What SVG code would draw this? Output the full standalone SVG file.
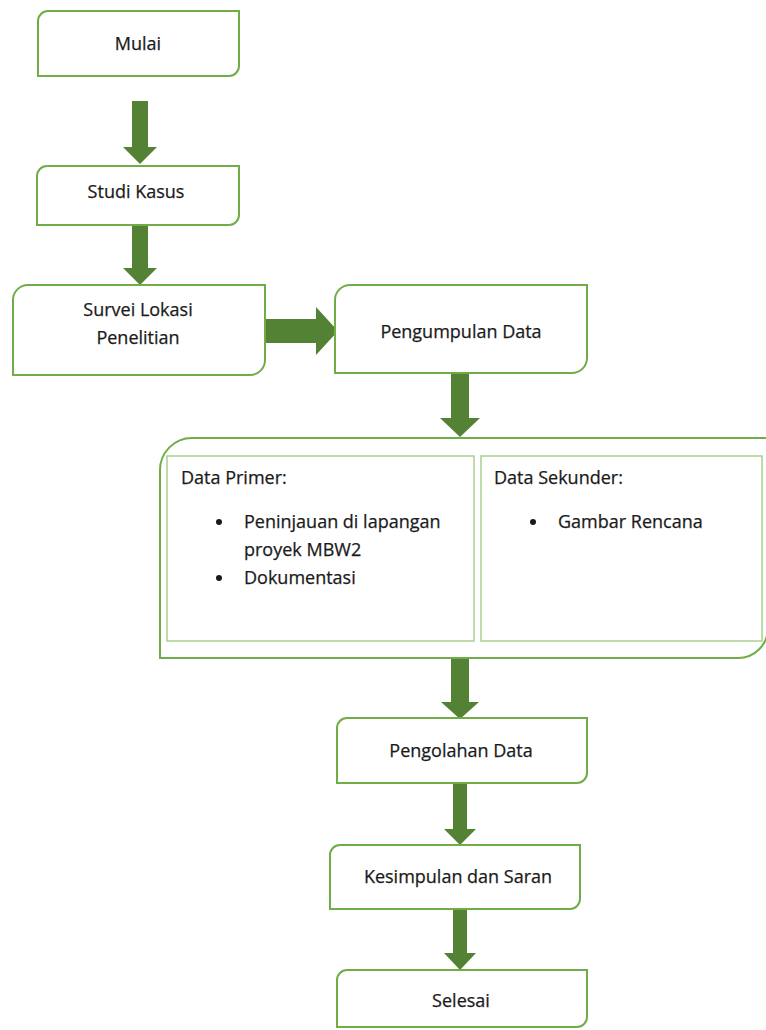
<svg xmlns="http://www.w3.org/2000/svg" width="766" height="1030" viewBox="0 0 766 1030">
<style>
.box{fill:#fff;stroke:#70AD47;stroke-width:2}
.inner{fill:#fff;stroke:#A9D18E;stroke-width:1.5}
.arr{fill:#548235}
text{font-family:"Open Sans","Liberation Sans",sans-serif;font-size:18px;fill:#1a1a1a;stroke:#1a1a1a;stroke-width:0.25}
.c{text-anchor:middle}
</style>
<rect width="766" height="1030" fill="#fff"/>
<g id="connectors">
<polygon class="arr" points="132,101 148,101 148,147 157,147 140,164 123,147 132,147"/>
<polygon class="arr" points="132,225 148,225 148,268 157,268 140,285 123,268 132,268"/>
<polygon class="arr" points="265,319 316,319 316,307 338,331 316,355 316,343 265,343"/>
<polygon class="arr" points="451,373 469,373 469,418 480,418 460,437 440,418 451,418"/>
<polygon class="arr" points="451,658 469,658 469,702 479,702 460,719 441,702 451,702"/>
<polygon class="arr" points="453,783 467,783 467,829 476,829 460,845 444,829 453,829"/>
<polygon class="arr" points="453,909 467,909 467,953 476,953 460,970 444,953 453,953"/>
</g>
<g id="mulai">
<path class="box" d="M48,11 H239 V66 A10,10 0 0 1 229,76 H38 V21 A10,10 0 0 1 48,11 Z"/>
<text class="c" x="138" y="50">Mulai</text>
</g>
<g id="studi">
<path class="box" d="M47,166 H239 V215 A10,10 0 0 1 229,225 H37 V176 A10,10 0 0 1 47,166 Z"/>
<text class="c" x="136" y="198">Studi Kasus</text>
</g>
<g id="survei">
<path class="box" d="M28,285 H265 V360 A15,15 0 0 1 250,375 H13 V300 A15,15 0 0 1 28,285 Z"/>
<text class="c" x="138" y="316">Survei Lokasi</text>
<text class="c" x="138" y="344">Penelitian</text>
</g>
<g id="pengumpulan">
<path class="box" d="M350,285 H587 V358 A15,15 0 0 1 572,373 H335 V300 A15,15 0 0 1 350,285 Z"/>
<text class="c" x="461" y="338">Pengumpulan Data</text>
</g>
<g id="data">
<path class="box" d="M192,438 H768 V628 A30,30 0 0 1 738,658 H160 V470 A32,32 0 0 1 192,438 Z"/>
<rect class="inner" x="167" y="456" width="307" height="185"/>
<rect class="inner" x="481" y="456" width="281" height="185"/>
<text x="181" y="484">Data Primer:</text>
<circle cx="219" cy="522" r="3" fill="#1a1a1a"/>
<text x="244" y="528">Peninjauan di lapangan</text>
<text x="244" y="556">proyek MBW2</text>
<circle cx="219" cy="578" r="3" fill="#1a1a1a"/>
<text x="244" y="584">Dokumentasi</text>
<text x="494" y="484">Data Sekunder:</text>
<circle cx="533" cy="522" r="3" fill="#1a1a1a"/>
<text x="558" y="528">Gambar Rencana</text>
</g>
<g id="pengolahan">
<path class="box" d="M347,718 H587 V773 A10,10 0 0 1 577,783 H337 V728 A10,10 0 0 1 347,718 Z"/>
<text class="c" x="461" y="757">Pengolahan Data</text>
</g>
<g id="kesimpulan">
<path class="box" d="M340,845 H580 V899 A10,10 0 0 1 570,909 H330 V855 A10,10 0 0 1 340,845 Z"/>
<text class="c" x="458" y="883">Kesimpulan dan Saran</text>
</g>
<g id="selesai">
<path class="box" d="M347,970 H587 V1017 A10,10 0 0 1 577,1027 H337 V980 A10,10 0 0 1 347,970 Z"/>
<text class="c" x="461" y="1007">Selesai</text>
</g>
</svg>
